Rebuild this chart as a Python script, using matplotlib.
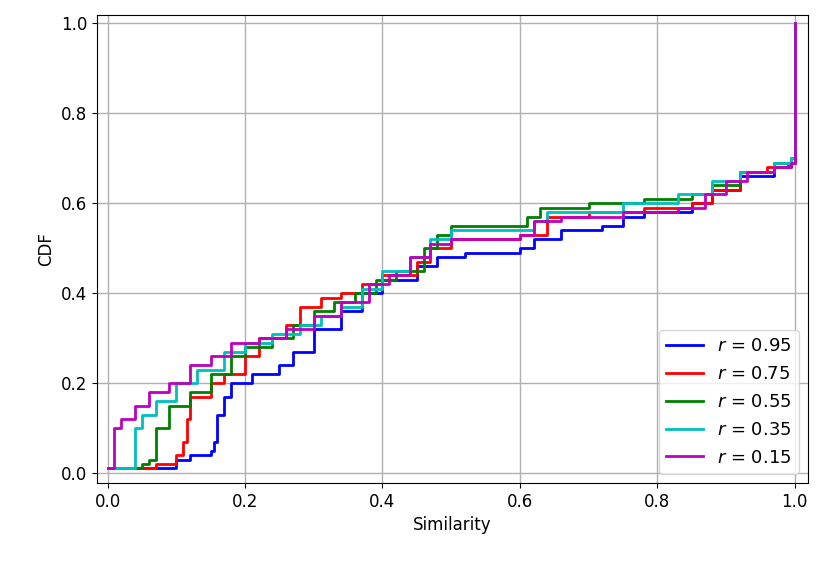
import matplotlib
matplotlib.use("Agg")
import matplotlib.pyplot as plt

labels = ["$r$ = 0.95", "$r$ = 0.75", "$r$ = 0.55", "$r$ = 0.35", "$r$ = 0.15"]
colors = ["b", "r", "g", "c", "m"]

x95 = [0, 0.1, 0.12, 0.15, 0.155, 0.16, 0.17, 0.18, 0.21, 0.25, 0.27, 0.3, 0.34, 0.37, 0.4, 0.45, 0.48, 0.52, 0.6, 0.62, 0.66, 0.72, 0.75, 0.78, 0.85, 0.88, 0.92, 0.97, 0.995, 1.0]
y95 = [0.012, 0.03, 0.04, 0.05, 0.07, 0.13, 0.17, 0.2, 0.22, 0.24, 0.27, 0.32, 0.36, 0.40, 0.43, 0.46, 0.48, 0.49, 0.50, 0.52, 0.54, 0.55, 0.57, 0.58, 0.60, 0.63, 0.66, 0.68, 0.69, 1.0]
x75 = [0, 0.07, 0.1, 0.11, 0.115, 0.12, 0.15, 0.17, 0.2, 0.22, 0.26, 0.28, 0.31, 0.34, 0.37, 0.40, 0.45, 0.47, 0.5, 0.6, 0.64, 0.7, 0.78, 0.85, 0.88, 0.92, 0.96, 0.99, 1.0]
y75 = [0.012, 0.02, 0.04, 0.07, 0.12, 0.17, 0.2, 0.22, 0.26, 0.3, 0.33, 0.37, 0.39, 0.40, 0.42, 0.44, 0.47, 0.50, 0.52, 0.53, 0.57, 0.58, 0.59, 0.60, 0.63, 0.67, 0.68, 0.69, 1.0]
x55 = [0, 0.05, 0.06, 0.07, 0.09, 0.12, 0.15, 0.18, 0.2, 0.24, 0.27, 0.3, 0.33, 0.36, 0.39, 0.42, 0.46, 0.48, 0.5, 0.61, 0.63, 0.7, 0.78, 0.85, 0.88, 0.92, 0.97, 0.995, 1.0]
y55 = [0.012, 0.02, 0.03, 0.1, 0.15, 0.18, 0.22, 0.26, 0.28, 0.3, 0.33, 0.36, 0.38, 0.40, 0.43, 0.45, 0.50, 0.53, 0.55, 0.57, 0.59, 0.60, 0.61, 0.62, 0.64, 0.67, 0.69, 0.70, 1.0]
x35 = [0, 0.04, 0.05, 0.07, 0.1, 0.13, 0.17, 0.2, 0.24, 0.28, 0.31, 0.34, 0.37, 0.4, 0.44, 0.47, 0.5, 0.62, 0.64, 0.75, 0.83, 0.88, 0.92, 0.97, 0.995, 1.0]
y35 = [0.012, 0.1, 0.13, 0.16, 0.2, 0.23, 0.27, 0.29, 0.31, 0.33, 0.35, 0.37, 0.41, 0.45, 0.48, 0.52, 0.54, 0.56, 0.58, 0.60, 0.62, 0.65, 0.67, 0.69, 0.70, 1.0]
x15 = [0, 0.01, 0.02, 0.04, 0.06, 0.09, 0.12, 0.15, 0.18, 0.22, 0.26, 0.3, 0.34, 0.38, 0.41, 0.44, 0.47, 0.5, 0.6, 0.62, 0.66, 0.75, 0.83, 0.87, 0.9, 0.93, 0.97, 0.995, 1.0]
y15 = [0.012, 0.1, 0.12, 0.15, 0.18, 0.2, 0.24, 0.26, 0.29, 0.3, 0.32, 0.35, 0.38, 0.42, 0.44, 0.48, 0.51, 0.52, 0.53, 0.56, 0.57, 0.58, 0.59, 0.62, 0.65, 0.67, 0.68, 0.69, 1.0]

series = [(x95, y95), (x75, y75), (x55, y55), (x35, y35), (x15, y15)]

fig = plt.figure(figsize=(8.31, 5.63), dpi=100)
ax = fig.add_axes([0.117, 0.142, 0.855, 0.831])
for (x, y), c, l in zip(series, colors, labels):
    ax.plot(x, y, drawstyle="steps-post", color=c, lw=2, label=l)
ax.set_xlim(-0.015, 1.019)
ax.set_ylim(-0.022, 1.018)
ax.grid(True, color="#b0b0b0", lw=1)
ax.set_xlabel("Similarity", fontsize=12)
ax.set_ylabel("CDF", fontsize=12)
ax.tick_params(labelsize=12)
ax.legend(loc="lower right", fontsize=13, labelspacing=0.55)
fig.savefig("out.png", dpi=100)
